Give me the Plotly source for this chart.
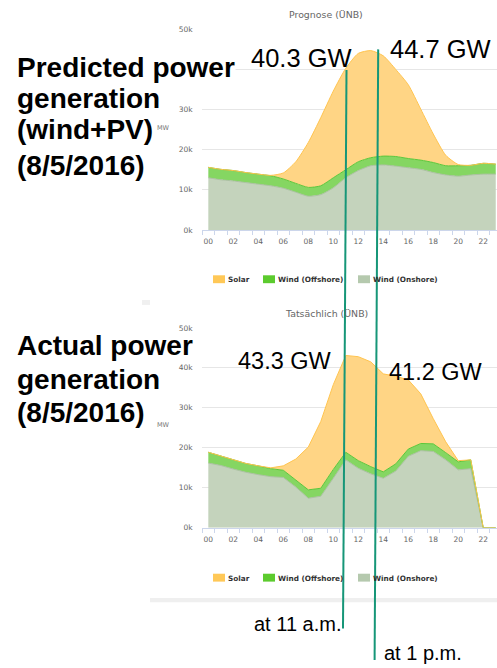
import plotly.graph_objects as go

W, H = 497, 668

hours = list(range(24))
hour_labels = ["%02d" % h for h in hours]

# Forecast (Prognose), MW
onshore_forecast = [13000, 12500, 12200, 11800, 11400, 11000, 10400, 9400, 8400, 8800, 10500, 13000,
                    14800, 16000, 16200, 15900, 15500, 15100, 14300, 13700, 13400, 13700, 13900, 13900]
offshore_forecast = [2600, 2600, 2600, 2500, 2500, 2500, 2300, 2200, 2200, 2200, 2500, 2000,
                     2200, 2000, 2200, 2400, 2300, 2300, 2500, 2300, 2600, 2400, 2700, 2500]
solar_forecast = [0, 0, 0, 0, 0, 100, 1500, 5400, 11200, 17000, 21600, 25300,
                  27000, 26700, 25000, 21700, 18400, 12700, 7100, 2600, 300, 0, 0, 0]

# Actual (Tatsaechlich), MW
onshore_actual = [16200, 15600, 14700, 13900, 13300, 12800, 12600, 10200, 7400, 7900, 12400, 17000,
                  14900, 13500, 12400, 14200, 17900, 19300, 19100, 17000, 14500, 14800, 0, 0]
offshore_actual = [2700, 2400, 2300, 2200, 2200, 2000, 1800, 1700, 2100, 2000, 2200, 1900,
                   1900, 1800, 1600, 1800, 1800, 1800, 1900, 1800, 2000, 2200, 0, 0]
solar_actual = [0, 0, 0, 0, 0, 200, 1100, 5300, 10700, 16700, 21200, 24200,
                26000, 26200, 24500, 21900, 17300, 12400, 6300, 2700, 300, 0, 0, 0]

y_ticks = [0, 10000, 20000, 30000, 40000, 50000]
y_tick_labels = ["0k", "10k", "20k", "30k", "40k", "50k"]

series_names = ["Wind (Onshore)", "Wind (Offshore)", "Solar"]
fill_colors = ["rgb(196,211,188)", "rgb(133,214,98)", "rgb(255,213,133)"]
line_colors = ["rgb(172,192,163)", "rgb(92,198,58)", "rgb(255,196,80)"]
legend_colors = ["#ffc857", "#5ccb2e", "#b5c9ae"]

def px(x):
    return x / W

def py(y):
    return 1 - y / H

fig = go.Figure()

panels = [
    (onshore_forecast, offshore_forecast, solar_forecast, "x", "y", "spline"),
    (onshore_actual, offshore_actual, solar_actual, "x2", "y2", "linear"),
]
for idx, (on, off, sol, xa, ya, shape) in enumerate(panels):
    for name, vals, fc, lc in zip(series_names, [on, off, sol], fill_colors, line_colors):
        fig.add_trace(go.Scatter(
            x=hours, y=vals, name=name, mode="lines",
            stackgroup="s%d" % idx, fillcolor=fc,
            line=dict(color=lc, width=1, shape=shape, smoothing=0.6),
            xaxis=xa, yaxis=ya, showlegend=False, hoverinfo="skip"))

tick_font = dict(family="DejaVu Sans", size=7.5, color="#666666")
xcommon = dict(range=[-0.53, 23.1], tickmode="array", tickvals=hours[::2], ticktext=hour_labels[::2],
               ticks="", showgrid=False, zeroline=False, showline=True, linecolor="#ccd6eb",
               linewidth=1, tickfont=tick_font, ticklabelstandoff=4,
               minor=dict(tickmode="linear", tick0=-0.5, dtick=1, ticks="outside", ticklen=4,
                          tickcolor="#ccd6eb", showgrid=False))
ycommon = dict(range=[0, 50000], tickmode="array", tickvals=y_ticks, ticktext=y_tick_labels,
               ticks="", showgrid=True, gridcolor="#e6e6e6", gridwidth=1, zeroline=False,
               showline=False, tickfont=tick_font, ticklabelstandoff=8)

fig.update_layout(
    width=W, height=H, margin=dict(l=0, r=0, t=0, b=0),
    paper_bgcolor="white", plot_bgcolor="white", showlegend=False,
    xaxis=dict(domain=[px(201.7), 1], anchor="y", **xcommon),
    yaxis=dict(domain=[py(229), py(25.7)], anchor="x", **ycommon),
    xaxis2=dict(domain=[px(201.7), 1], anchor="y2", **xcommon),
    yaxis2=dict(domain=[py(531), py(328.3)], anchor="x2", **ycommon),
)

ann = []
shapes = []

def text(x, y, s, size, color="black", family="Liberation Sans", bold=False, xanchor="center", bg=None):
    d = dict(x=px(x), y=py(y), xref="paper", yref="paper", text=("<b>%s</b>" % s) if bold else s,
             showarrow=False, xanchor=xanchor, yanchor="middle", borderpad=0,
             font=dict(family=family, size=size, color=color))
    if bg:
        d["bgcolor"] = bg
    ann.append(d)

# chart titles
text(326, 11, "Prognose (ÜNB)", 9.4, color="#666666", family="DejaVu Sans")
text(326, 314, "Tatsächlich (ÜNB)", 9.4, color="#666666", family="DejaVu Sans")
# MW labels
text(163, 126, "MW", 6.5, color="#777777", family="DejaVu Sans")
text(163, 427, "MW", 6.5, color="#777777", family="DejaVu Sans")

# legends
legend_items = ["Solar", "Wind (Offshore)", "Wind (Onshore)"]
sw_x = [213, 263, 358]
for ly in [279, 581.5]:
    for name, sx, col in zip(legend_items, sw_x, legend_colors):
        shapes.append(dict(type="rect", xref="paper", yref="paper", x0=px(sx), x1=px(sx + 12),
                           y0=py(ly + 4), y1=py(ly - 4), fillcolor=col, line=dict(width=0)))
        text(sx + 14, ly + 0.5, name, 7.3, color="#333333", family="DejaVu Sans", bold=True, xanchor="left")

# separator band
shapes.append(dict(type="rect", xref="paper", yref="paper", x0=px(150), x1=1, y0=py(606.5), y1=py(602),
                   fillcolor="#efefef", line=dict(width=0), layer="below"))
shapes.append(dict(type="rect", xref="paper", yref="paper", x0=px(142), x1=px(150), y0=py(305), y1=py(300),
                   fillcolor="#f0f0f0", line=dict(width=0), layer="below"))

# left headings
for y, s in [(64, "Predicted power"), (96, "generation"), (127.5, "(wind+PV)"), (164, "(8/5/2016)")]:
    text(16, y, s, 28, bold=True, xanchor="left", bg="white" if s == "Predicted power" else None)
for y, s in [(346, "Actual power"), (381, "generation"), (413.7, "(8/5/2016)")]:
    text(16, y, s, 28, bold=True, xanchor="left")

# value callouts
text(301.5, 55, "40.3 GW", 25.5)
text(440, 46, "44.7 GW", 25.5)
text(284.5, 361.5, "43.3 GW", 23.5)
text(435.5, 373.5, "41.2 GW", 23.5)
text(297.5, 628.5, "at 11 a.m.", 20)
text(422.5, 657.5, "at 1 p.m.", 20)

# vertical marker lines
line_col = "rgb(22,150,120)"
shapes.append(dict(type="line", xref="paper", yref="paper", x0=px(346.5), y0=py(67), x1=px(343), y1=py(633),
                   line=dict(color=line_col, width=2)))
shapes.append(dict(type="line", xref="paper", yref="paper", x0=px(378.2), y0=py(46), x1=px(374.6), y1=py(665),
                   line=dict(color=line_col, width=2)))

fig.update_layout(annotations=ann, shapes=shapes)
fig.write_html("out.html", config={"displayModeBar": False},
               post_script="document.body.style.margin='0';document.body.style.overflow='hidden';")
